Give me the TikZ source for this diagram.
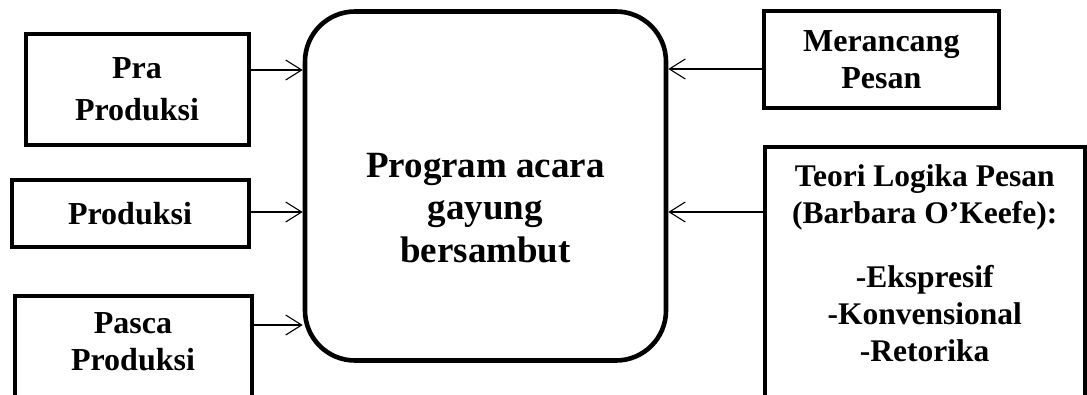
\documentclass[tikz,border=0pt]{standalone}
\usepackage{fontspec}
\setmainfont{Liberation Serif}
\usetikzlibrary{arrows.meta}

\tikzset{
  kotak/.style={draw, line width=4pt, align=center, inner sep=0pt,
    font=\bfseries\fontsize{32}{37}\selectfont},
  teks/.style={align=center, inner sep=0pt,
    font=\bfseries\fontsize{32}{37}\selectfont},
  panah/.style={line width=1.1pt, -{Straight Barb[length=16pt,width=20pt]}},
}

\begin{document}
\begin{tikzpicture}[x=1pt,y=-1pt]
\useasboundingbox (0,0) rectangle (1087,394);
\clip (0,0) rectangle (1087,394);
%kiri
\node[kotak, minimum width=223pt, minimum height=111pt,
  font=\bfseries\fontsize{32}{42}\selectfont] (pra) at (137,89.2) {Pra\\Produksi};
\node[kotak, minimum width=237pt, minimum height=67pt] (prod) at (130,213.8) {Produksi};
\node[kotak, anchor=north, minimum width=237pt, minimum height=130pt] (pasca) at (133,293.7) {};
\node[teks] (pascateks) at (133,341.5) {Pasca\\Produksi};
%tengah
\node[kotak, rounded corners=50pt, line width=4.6pt, minimum width=361pt,
  minimum height=349pt] (acara) at (485.5,186) {};
\node[teks, font=\bfseries\fontsize{37}{42.5}\selectfont] (acarateks) at (485.5,208)
  {Program acara\\gayung\\bersambut};
%kanan
\node[kotak, minimum width=235pt, minimum height=97pt] (pesan) at (881.3,59.7) {Merancang\\Pesan};
\node[kotak, anchor=north, minimum width=320pt, minimum height=280pt] (teori) at (924.7,145.3) {};
\node[teks, font=\bfseries\fontsize{31.5}{37}\selectfont] (teoriteks) at (924.7,263.2)
  {Teori Logika Pesan\\(Barbara O'Keefe):\\[27pt]-Ekspresif\\-Konvensional\\-Retorika};
%panah
\draw[panah] (pra.east |- 0,70) -- (acara.west |- 0,70);
\draw[panah] (prod.east |- 0,212) -- (acara.west |- 0,212);
\draw[panah] (pasca.east |- 0,325) -- (acara.west |- 0,325);
\draw[panah] (pesan.west |- 0,69) -- (acara.east |- 0,69);
\draw[panah] (teori.west |- 0,212) -- (acara.east |- 0,212);
\end{tikzpicture}
\end{document}
